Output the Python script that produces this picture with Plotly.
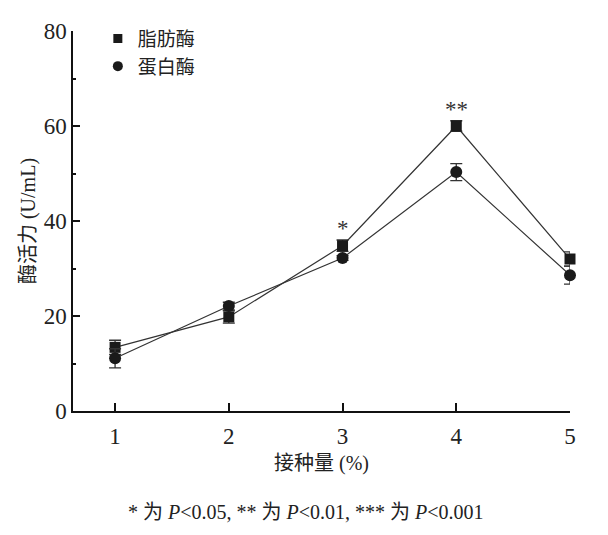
import plotly.graph_objects as go

# inoculum (%) on x, enzyme activity (U/mL) on y
inoculum = [1, 2, 3, 4, 5]
lipase = [13.4, 19.8, 34.8, 60.0, 32.0]
lipase_err = [1.5, 1.3, 1.2, 1.1, 1.5]
protease = [11.1, 22.1, 32.2, 50.3, 28.6]
protease_err = [2.0, 0.8, 0.5, 1.8, 1.9]
sig_x = [3, 4]
sig_y = [34.8, 60.0]
sig_text = ["*", "**"]

serif = "Liberation Serif, Noto Sans CJK SC, serif"
line_col = "#333333"
mark_col = "#1a1a1a"

fig = go.Figure()
fig.add_trace(go.Scatter(
    x=inoculum, y=lipase, name="脂肪酶", mode="lines+markers", showlegend=False,
    line=dict(color=line_col, width=1.2),
    marker=dict(symbol="square", size=11, color=mark_col),
    error_y=dict(type="data", array=lipase_err, color=line_col, thickness=1.3, width=6),
    cliponaxis=False,
))
fig.add_trace(go.Scatter(
    x=inoculum, y=protease, name="蛋白酶", mode="lines+markers", showlegend=False,
    line=dict(color=line_col, width=1.2),
    marker=dict(symbol="circle", size=12, color=mark_col),
    error_y=dict(type="data", array=protease_err, color=line_col, thickness=1.3, width=6),
    cliponaxis=False,
))
# legend entries show the marker only
fig.add_trace(go.Scatter(x=[None], y=[None], name="脂肪酶", mode="markers",
                         marker=dict(symbol="square", size=9, color=mark_col)))
fig.add_trace(go.Scatter(x=[None], y=[None], name="蛋白酶", mode="markers",
                         marker=dict(symbol="circle", size=10, color=mark_col)))

for x, y, t in zip(sig_x, sig_y, sig_text):
    fig.add_annotation(x=x, y=y, text=t, showarrow=False, yshift=17,
                       font=dict(family=serif, size=23, color="#333"))

fig.add_annotation(
    xref="paper", yref="paper", x=0.469, y=-0.3, showarrow=False,
    text="* 为 <i>P</i>&lt;0.05, ** 为 <i>P</i>&lt;0.01, *** 为 <i>P</i>&lt;0.001",
    font=dict(family=serif, size=20, color="#222"),
)

fig.update_layout(
    width=608, height=535,
    margin=dict(l=65, r=46, t=19, b=132),
    plot_bgcolor="white", paper_bgcolor="white",
    font=dict(family=serif, size=23, color="#222"),
    showlegend=True,
    legend=dict(x=0.05, y=1.03, xanchor="left", yanchor="top",
                font=dict(family="Noto Sans CJK SC", size=19),
                itemwidth=30, tracegroupgap=0, bgcolor="rgba(0,0,0,0)"),
)
fig.update_xaxes(
    range=[0.63, 5.0], tickvals=inoculum, showgrid=False, zeroline=False,
    showline=True, linecolor="#111", linewidth=1.5,
    ticks="inside", ticklen=8, tickwidth=1.5, tickcolor="#111",
    ticklabelstandoff=4,
    title=dict(text="接种量 (%)", font=dict(size=20), standoff=8),
)
fig.update_yaxes(
    range=[0, 80], tickvals=[0, 20, 40, 60, 80], showgrid=False, zeroline=False,
    showline=True, linecolor="#111", linewidth=1.5,
    ticks="inside", ticklen=7, tickwidth=1.5, tickcolor="#111",
    minor=dict(tickvals=[10, 30, 50, 70], ticks="inside", ticklen=3, tickcolor="#111"),
    title=dict(text="酶活力 (U/mL)", font=dict(size=20), standoff=3),
)

fig.write_html("out.html")
